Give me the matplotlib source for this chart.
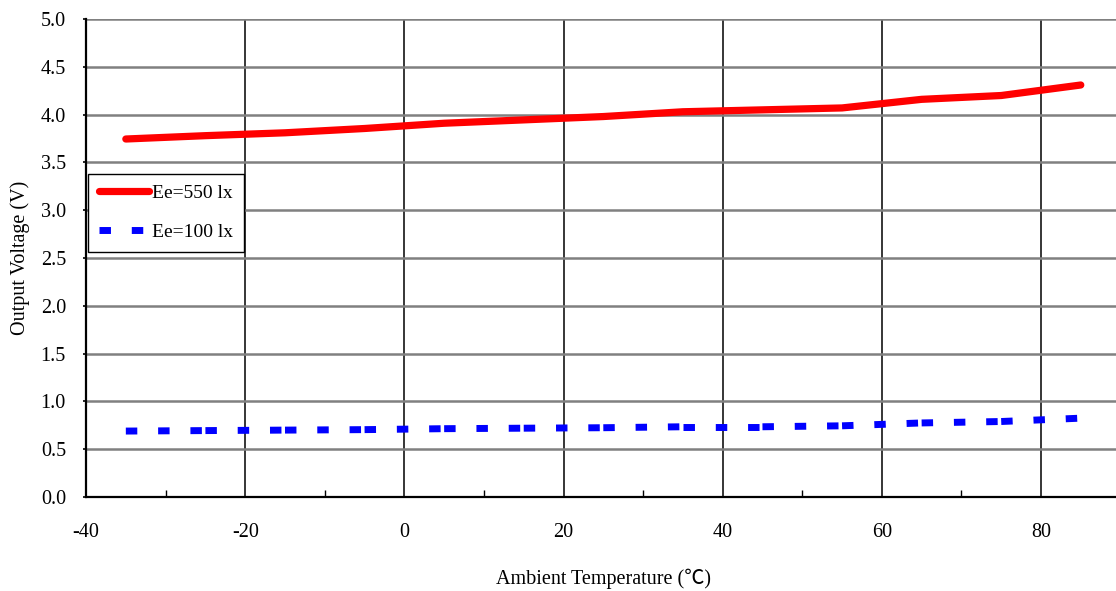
import matplotlib
matplotlib.use('Agg')
import matplotlib.pyplot as plt
from matplotlib.ticker import MultipleLocator, FormatStrFormatter
from matplotlib.lines import Line2D

plt.rcParams['font.family'] = ['Liberation Serif', 'Noto Sans CJK TC', 'DejaVu Sans']
plt.rcParams['axes.unicode_minus'] = False

temps = [-35, -25, -15, -5, 5, 15, 25, 35, 45, 55, 65, 75, 85]
v_550 = [3.745, 3.78, 3.81, 3.855, 3.91, 3.945, 3.98, 4.03, 4.05, 4.07, 4.16, 4.20, 4.31]
v_100 = [0.69, 0.695, 0.70, 0.705, 0.715, 0.72, 0.725, 0.735, 0.735, 0.745, 0.775, 0.79, 0.825]
labels = ['Ee=550 lx', 'Ee=100 lx']

fig = plt.figure(figsize=(11.16, 5.91), dpi=100)
ax = fig.add_axes([0.0771, 0.159, 0.927, 0.8088])

ax.plot(temps, v_550, color='red', lw=5.2, solid_capstyle='round',
        solid_joinstyle='round', zorder=4)
# dotted series: dash pattern restarts at each data point
for i in range(len(temps) - 1):
    ax.plot(temps[i:i + 2], v_100[i:i + 2], color='blue', lw=5.0,
            dashes=(1.65, 3.0), dash_capstyle='butt', zorder=4)

ax.set_xlim(-40, 90)
ax.set_ylim(0, 5)
ax.xaxis.set_major_locator(MultipleLocator(20))
ax.xaxis.set_minor_locator(MultipleLocator(10))
ax.yaxis.set_major_locator(MultipleLocator(0.5))
ax.yaxis.set_major_formatter(FormatStrFormatter('%.1f'))

ax.grid(axis='x', which='major', color='black', lw=1.1)
ax.grid(axis='y', which='major', color='#808080', lw=1.8)
ax.set_axisbelow(True)

for s in ['top', 'right']:
    ax.spines[s].set_visible(False)
ax.spines['left'].set_linewidth(1.6)
ax.spines['bottom'].set_linewidth(1.6)

ax.tick_params(axis='x', which='major', direction='in', length=0, labelsize=14.5, pad=19)
ax.tick_params(axis='x', which='minor', direction='in', length=5, width=1)
ax.tick_params(axis='y', which='major', direction='out', length=2.5, width=1.2,
               labelsize=14.5, pad=12)

ax.set_xlabel('Ambient Temperature (℃)', fontsize=14.5, labelpad=19)
ax.set_ylabel('Output Voltage (V)', fontsize=14.5, labelpad=8)

h1 = Line2D([], [], color='red', lw=5.2, solid_capstyle='round')
h2 = Line2D([], [], color='blue', lw=5.0, dashes=(1.65, 3.0), dash_capstyle='butt')
leg = ax.legend([h1, h2], labels, loc='upper left', bbox_to_anchor=(0.002, 0.676),
                borderaxespad=0, fancybox=False, framealpha=1, edgecolor='black',
                fontsize=14, handlelength=2.6, handletextpad=0.15, borderpad=0.55,
                labelspacing=1.1)
leg.get_frame().set_linewidth(1.0)

fig.savefig('out.png', dpi=100)
